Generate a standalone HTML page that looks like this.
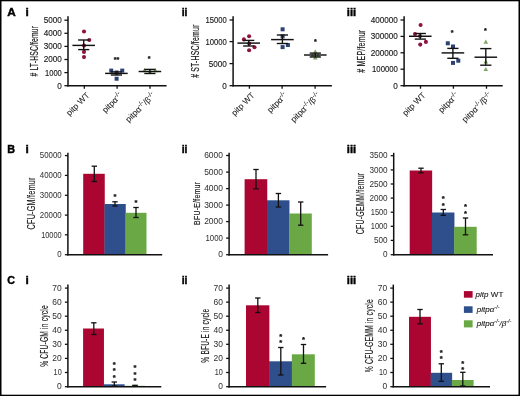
<!DOCTYPE html>
<html lang="en">
<head>
<meta charset="utf-8">
<title>Figure</title>
<style>
html,body{margin:0;padding:0;background:#fff;}
body{width:520px;height:396px;overflow:hidden;position:relative;}
svg{display:block;position:absolute;left:0;top:0;}
svg text{font-family:"Liberation Sans",sans-serif;}
</style>
</head>
<body>
<svg width="520" height="396" viewBox="0 0 520 396">
<rect x="0" y="0" width="520" height="396" fill="#fff"/>
<line x1="68.00" y1="16.20" x2="68.00" y2="86.45" stroke="#111" stroke-width="1.5" />
<line x1="64.40" y1="20.20" x2="68.00" y2="20.20" stroke="#111" stroke-width="1.275" />
<text transform="translate(61.80,23.11) scale(0.850,1)" font-size="9.6" text-anchor="end" fill="#1a1a1a" stroke="#1a1a1a" stroke-width="0.15">5000</text>
<line x1="64.40" y1="33.30" x2="68.00" y2="33.30" stroke="#111" stroke-width="1.275" />
<text transform="translate(61.80,36.21) scale(0.850,1)" font-size="9.6" text-anchor="end" fill="#1a1a1a" stroke="#1a1a1a" stroke-width="0.15">4000</text>
<line x1="64.40" y1="46.40" x2="68.00" y2="46.40" stroke="#111" stroke-width="1.275" />
<text transform="translate(61.80,49.31) scale(0.850,1)" font-size="9.6" text-anchor="end" fill="#1a1a1a" stroke="#1a1a1a" stroke-width="0.15">3000</text>
<line x1="64.40" y1="59.50" x2="68.00" y2="59.50" stroke="#111" stroke-width="1.275" />
<text transform="translate(61.80,62.41) scale(0.850,1)" font-size="9.6" text-anchor="end" fill="#1a1a1a" stroke="#1a1a1a" stroke-width="0.15">2000</text>
<line x1="64.40" y1="72.60" x2="68.00" y2="72.60" stroke="#111" stroke-width="1.275" />
<text transform="translate(61.80,75.51) scale(0.789,1)" font-size="9.6" text-anchor="end" fill="#1a1a1a" stroke="#1a1a1a" stroke-width="0.15">1000</text>
<line x1="64.40" y1="85.70" x2="68.00" y2="85.70" stroke="#111" stroke-width="1.275" />
<text transform="translate(61.80,88.61) scale(0.850,1)" font-size="9.6" text-anchor="end" fill="#1a1a1a" stroke="#1a1a1a" stroke-width="0.15">0</text>
<line x1="67.28" y1="85.70" x2="166.60" y2="85.70" stroke="#111" stroke-width="1.45" />
<line x1="84.30" y1="85.70" x2="84.30" y2="88.70" stroke="#111" stroke-width="1.305" />
<line x1="117.10" y1="85.70" x2="117.10" y2="88.70" stroke="#111" stroke-width="1.305" />
<line x1="150.00" y1="85.70" x2="150.00" y2="88.70" stroke="#111" stroke-width="1.305" />
<text transform="translate(37.60,51.20) rotate(-90) scale(0.672,1)" font-size="10.0" text-anchor="middle" letter-spacing="0.3" fill="#1a1a1a" stroke="#1a1a1a" stroke-width="0.18"># LT-HSC/femur</text>
<circle cx="84.00" cy="31.50" r="2.05" fill="#8f1340"/>
<circle cx="89.25" cy="40.00" r="2.05" fill="#8f1340"/>
<circle cx="84.00" cy="45.60" r="2.05" fill="#8f1340"/>
<circle cx="84.00" cy="51.90" r="2.05" fill="#8f1340"/>
<circle cx="84.00" cy="57.10" r="2.05" fill="#8f1340"/>
<rect x="109.25" y="68.60" width="4.0" height="4.0" fill="#2d4174"/>
<rect x="120.25" y="68.60" width="4.0" height="4.0" fill="#2d4174"/>
<rect x="114.60" y="70.50" width="4.0" height="4.0" fill="#2d4174"/>
<rect x="114.60" y="76.75" width="4.0" height="4.0" fill="#2d4174"/>
<polygon points="144.50,68.00 142.20,72.14 146.80,72.14" fill="#7fa667"/>
<polygon points="155.30,68.00 153.00,72.14 157.60,72.14" fill="#7fa667"/>
<polygon points="149.90,69.50 147.60,73.64 152.20,73.64" fill="#7fa667"/>
<line x1="72.40" y1="45.40" x2="95.00" y2="45.40" stroke="#111" stroke-width="1.4489999999999998" />
<line x1="83.70" y1="40.00" x2="83.70" y2="49.60" stroke="#111" stroke-width="1.38" />
<line x1="78.10" y1="40.00" x2="89.30" y2="40.00" stroke="#111" stroke-width="1.38" />
<line x1="78.10" y1="49.60" x2="89.30" y2="49.60" stroke="#111" stroke-width="1.38" />
<line x1="105.10" y1="73.40" x2="127.70" y2="73.40" stroke="#111" stroke-width="1.4489999999999998" />
<line x1="116.40" y1="71.90" x2="116.40" y2="75.00" stroke="#111" stroke-width="1.38" />
<line x1="110.80" y1="71.90" x2="122.00" y2="71.90" stroke="#111" stroke-width="1.38" />
<line x1="110.80" y1="75.00" x2="122.00" y2="75.00" stroke="#111" stroke-width="1.38" />
<line x1="138.60" y1="71.50" x2="161.20" y2="71.50" stroke="#111" stroke-width="1.4489999999999998" />
<line x1="149.90" y1="69.40" x2="149.90" y2="73.50" stroke="#111" stroke-width="1.38" />
<line x1="144.30" y1="69.40" x2="155.50" y2="69.40" stroke="#111" stroke-width="1.38" />
<line x1="144.30" y1="73.50" x2="155.50" y2="73.50" stroke="#111" stroke-width="1.38" />
<text x="116.60" y="62.01" font-size="7.2" text-anchor="middle" font-weight="bold" font-style="normal" fill="#111" stroke="#111" stroke-width="0.25">**</text>
<text x="149.20" y="61.31" font-size="7.2" text-anchor="middle" font-weight="bold" font-style="normal" fill="#111" stroke="#111" stroke-width="0.25">*</text>
<text transform="translate(90.00,95.90) rotate(-45)" font-size="8.4" text-anchor="end" fill="#1a1a1a" stroke="#1a1a1a" stroke-width="0.05">pitp WT</text>
<text transform="translate(122.80,95.90) rotate(-45)" font-size="8.4" text-anchor="end" fill="#1a1a1a" stroke="#1a1a1a" stroke-width="0.05">pitpα<tspan dy="-3" font-size="6.6">-/-</tspan></text>
<text transform="translate(155.70,95.90) rotate(-45)" font-size="8.4" text-anchor="end" fill="#1a1a1a" stroke="#1a1a1a" stroke-width="0.05">pitpα<tspan dy="-3" font-size="6.6">-/-</tspan><tspan dy="3">/β</tspan><tspan dy="-3" font-size="6.6">-/-</tspan></text>
<line x1="233.10" y1="16.20" x2="233.10" y2="86.45" stroke="#111" stroke-width="1.5" />
<line x1="229.50" y1="20.00" x2="233.10" y2="20.00" stroke="#111" stroke-width="1.275" />
<text transform="translate(226.90,22.91) scale(0.801,1)" font-size="9.6" text-anchor="end" fill="#1a1a1a" stroke="#1a1a1a" stroke-width="0.15">15000</text>
<line x1="229.50" y1="41.60" x2="233.10" y2="41.60" stroke="#111" stroke-width="1.275" />
<text transform="translate(226.90,44.51) scale(0.801,1)" font-size="9.6" text-anchor="end" fill="#1a1a1a" stroke="#1a1a1a" stroke-width="0.15">10000</text>
<line x1="229.50" y1="63.60" x2="233.10" y2="63.60" stroke="#111" stroke-width="1.275" />
<text transform="translate(226.90,66.51) scale(0.850,1)" font-size="9.6" text-anchor="end" fill="#1a1a1a" stroke="#1a1a1a" stroke-width="0.15">5000</text>
<line x1="229.50" y1="85.70" x2="233.10" y2="85.70" stroke="#111" stroke-width="1.275" />
<text transform="translate(226.90,88.61) scale(0.850,1)" font-size="9.6" text-anchor="end" fill="#1a1a1a" stroke="#1a1a1a" stroke-width="0.15">0</text>
<line x1="232.38" y1="85.70" x2="331.90" y2="85.70" stroke="#111" stroke-width="1.45" />
<line x1="249.40" y1="85.70" x2="249.40" y2="88.70" stroke="#111" stroke-width="1.305" />
<line x1="282.10" y1="85.70" x2="282.10" y2="88.70" stroke="#111" stroke-width="1.305" />
<line x1="315.10" y1="85.70" x2="315.10" y2="88.70" stroke="#111" stroke-width="1.305" />
<text transform="translate(198.70,51.20) rotate(-90) scale(0.688,1)" font-size="10.0" text-anchor="middle" letter-spacing="0.3" fill="#1a1a1a" stroke="#1a1a1a" stroke-width="0.18"># ST-HSC/femur</text>
<circle cx="243.90" cy="39.40" r="2.05" fill="#8f1340"/>
<circle cx="249.10" cy="36.30" r="2.05" fill="#8f1340"/>
<circle cx="249.20" cy="43.50" r="2.05" fill="#8f1340"/>
<circle cx="254.50" cy="47.20" r="2.05" fill="#8f1340"/>
<circle cx="249.10" cy="50.30" r="2.05" fill="#8f1340"/>
<rect x="280.60" y="27.30" width="4.0" height="4.0" fill="#2d4174"/>
<rect x="280.60" y="34.40" width="4.0" height="4.0" fill="#2d4174"/>
<rect x="285.90" y="43.00" width="4.0" height="4.0" fill="#2d4174"/>
<rect x="280.60" y="45.10" width="4.0" height="4.0" fill="#2d4174"/>
<polygon points="315.25,49.30 312.95,53.44 317.55,53.44" fill="#7fa667"/>
<polygon points="312.50,52.90 310.20,57.04 314.80,57.04" fill="#7fa667"/>
<polygon points="318.00,52.90 315.70,57.04 320.30,57.04" fill="#7fa667"/>
<polygon points="315.25,55.30 312.95,59.44 317.55,59.44" fill="#7fa667"/>
<line x1="237.40" y1="43.10" x2="260.00" y2="43.10" stroke="#111" stroke-width="1.4489999999999998" />
<line x1="248.70" y1="40.40" x2="248.70" y2="46.00" stroke="#111" stroke-width="1.38" />
<line x1="243.10" y1="40.40" x2="254.30" y2="40.40" stroke="#111" stroke-width="1.38" />
<line x1="243.10" y1="46.00" x2="254.30" y2="46.00" stroke="#111" stroke-width="1.38" />
<line x1="271.10" y1="39.60" x2="293.70" y2="39.60" stroke="#111" stroke-width="1.4489999999999998" />
<line x1="282.40" y1="35.00" x2="282.40" y2="43.50" stroke="#111" stroke-width="1.38" />
<line x1="276.80" y1="35.00" x2="288.00" y2="35.00" stroke="#111" stroke-width="1.38" />
<line x1="276.80" y1="43.50" x2="288.00" y2="43.50" stroke="#111" stroke-width="1.38" />
<line x1="304.00" y1="55.00" x2="326.60" y2="55.00" stroke="#111" stroke-width="1.4489999999999998" />
<line x1="315.30" y1="53.10" x2="315.30" y2="57.00" stroke="#111" stroke-width="1.38" />
<line x1="309.70" y1="53.10" x2="320.90" y2="53.10" stroke="#111" stroke-width="1.38" />
<line x1="309.70" y1="57.00" x2="320.90" y2="57.00" stroke="#111" stroke-width="1.38" />
<text x="315.30" y="44.01" font-size="7.2" text-anchor="middle" font-weight="bold" font-style="normal" fill="#111" stroke="#111" stroke-width="0.25">*</text>
<text transform="translate(255.10,95.90) rotate(-45)" font-size="8.4" text-anchor="end" fill="#1a1a1a" stroke="#1a1a1a" stroke-width="0.05">pitp WT</text>
<text transform="translate(287.80,95.90) rotate(-45)" font-size="8.4" text-anchor="end" fill="#1a1a1a" stroke="#1a1a1a" stroke-width="0.05">pitpα<tspan dy="-3" font-size="6.6">-/-</tspan></text>
<text transform="translate(320.80,95.90) rotate(-45)" font-size="8.4" text-anchor="end" fill="#1a1a1a" stroke="#1a1a1a" stroke-width="0.05">pitpα<tspan dy="-3" font-size="6.6">-/-</tspan><tspan dy="3">/β</tspan><tspan dy="-3" font-size="6.6">-/-</tspan></text>
<line x1="404.10" y1="16.20" x2="404.10" y2="86.45" stroke="#111" stroke-width="1.5" />
<line x1="400.50" y1="20.00" x2="404.10" y2="20.00" stroke="#111" stroke-width="1.275" />
<text transform="translate(397.90,22.91) scale(0.850,1)" font-size="9.6" text-anchor="end" fill="#1a1a1a" stroke="#1a1a1a" stroke-width="0.15">400000</text>
<line x1="400.50" y1="36.40" x2="404.10" y2="36.40" stroke="#111" stroke-width="1.275" />
<text transform="translate(397.90,39.31) scale(0.850,1)" font-size="9.6" text-anchor="end" fill="#1a1a1a" stroke="#1a1a1a" stroke-width="0.15">300000</text>
<line x1="400.50" y1="52.80" x2="404.10" y2="52.80" stroke="#111" stroke-width="1.275" />
<text transform="translate(397.90,55.71) scale(0.850,1)" font-size="9.6" text-anchor="end" fill="#1a1a1a" stroke="#1a1a1a" stroke-width="0.15">200000</text>
<line x1="400.50" y1="69.20" x2="404.10" y2="69.20" stroke="#111" stroke-width="1.275" />
<text transform="translate(397.90,72.11) scale(0.809,1)" font-size="9.6" text-anchor="end" fill="#1a1a1a" stroke="#1a1a1a" stroke-width="0.15">100000</text>
<line x1="400.50" y1="85.70" x2="404.10" y2="85.70" stroke="#111" stroke-width="1.275" />
<text transform="translate(397.90,88.61) scale(0.850,1)" font-size="9.6" text-anchor="end" fill="#1a1a1a" stroke="#1a1a1a" stroke-width="0.15">0</text>
<line x1="403.38" y1="85.70" x2="502.70" y2="85.70" stroke="#111" stroke-width="1.45" />
<line x1="420.50" y1="85.70" x2="420.50" y2="88.70" stroke="#111" stroke-width="1.305" />
<line x1="453.40" y1="85.70" x2="453.40" y2="88.70" stroke="#111" stroke-width="1.305" />
<line x1="486.50" y1="85.70" x2="486.50" y2="88.70" stroke="#111" stroke-width="1.305" />
<text transform="translate(365.40,51.20) rotate(-90) scale(0.701,1)" font-size="10.0" text-anchor="middle" letter-spacing="0.3" fill="#1a1a1a" stroke="#1a1a1a" stroke-width="0.18"># MEP/femur</text>
<circle cx="420.60" cy="25.00" r="2.05" fill="#8f1340"/>
<circle cx="415.00" cy="34.00" r="2.05" fill="#8f1340"/>
<circle cx="420.00" cy="36.00" r="2.05" fill="#8f1340"/>
<circle cx="425.90" cy="41.90" r="2.05" fill="#8f1340"/>
<circle cx="420.25" cy="44.60" r="2.05" fill="#8f1340"/>
<rect x="445.80" y="41.30" width="4.0" height="4.0" fill="#2d4174"/>
<rect x="451.00" y="44.50" width="4.0" height="4.0" fill="#2d4174"/>
<rect x="456.30" y="58.70" width="4.0" height="4.0" fill="#2d4174"/>
<rect x="451.00" y="60.90" width="4.0" height="4.0" fill="#2d4174"/>
<polygon points="485.80,39.50 483.50,43.64 488.10,43.64" fill="#7fa667"/>
<polygon points="485.80,59.30 483.50,63.44 488.10,63.44" fill="#7fa667"/>
<polygon points="485.80,66.90 483.50,71.04 488.10,71.04" fill="#7fa667"/>
<line x1="409.00" y1="36.25" x2="431.60" y2="36.25" stroke="#111" stroke-width="1.4489999999999998" />
<line x1="420.30" y1="33.50" x2="420.30" y2="39.10" stroke="#111" stroke-width="1.38" />
<line x1="414.70" y1="33.50" x2="425.90" y2="33.50" stroke="#111" stroke-width="1.38" />
<line x1="414.70" y1="39.10" x2="425.90" y2="39.10" stroke="#111" stroke-width="1.38" />
<line x1="441.60" y1="52.90" x2="464.20" y2="52.90" stroke="#111" stroke-width="1.4489999999999998" />
<line x1="452.90" y1="48.40" x2="452.90" y2="58.30" stroke="#111" stroke-width="1.38" />
<line x1="447.30" y1="48.40" x2="458.50" y2="48.40" stroke="#111" stroke-width="1.38" />
<line x1="447.30" y1="58.30" x2="458.50" y2="58.30" stroke="#111" stroke-width="1.38" />
<line x1="474.50" y1="57.20" x2="497.10" y2="57.20" stroke="#111" stroke-width="1.4489999999999998" />
<line x1="485.80" y1="48.60" x2="485.80" y2="65.20" stroke="#111" stroke-width="1.38" />
<line x1="480.20" y1="48.60" x2="491.40" y2="48.60" stroke="#111" stroke-width="1.38" />
<line x1="480.20" y1="65.20" x2="491.40" y2="65.20" stroke="#111" stroke-width="1.38" />
<text x="452.10" y="34.51" font-size="7.2" text-anchor="middle" font-weight="bold" font-style="normal" fill="#111" stroke="#111" stroke-width="0.25">*</text>
<text x="485.50" y="32.61" font-size="7.2" text-anchor="middle" font-weight="bold" font-style="normal" fill="#111" stroke="#111" stroke-width="0.25">*</text>
<text transform="translate(426.20,95.90) rotate(-45)" font-size="8.4" text-anchor="end" fill="#1a1a1a" stroke="#1a1a1a" stroke-width="0.05">pitp WT</text>
<text transform="translate(459.10,95.90) rotate(-45)" font-size="8.4" text-anchor="end" fill="#1a1a1a" stroke="#1a1a1a" stroke-width="0.05">pitpα<tspan dy="-3" font-size="6.6">-/-</tspan></text>
<text transform="translate(492.20,95.90) rotate(-45)" font-size="8.4" text-anchor="end" fill="#1a1a1a" stroke="#1a1a1a" stroke-width="0.05">pitpα<tspan dy="-3" font-size="6.6">-/-</tspan><tspan dy="3">/β</tspan><tspan dy="-3" font-size="6.6">-/-</tspan></text>
<rect x="83.20" y="173.80" width="21.55" height="80.90" fill="#ab0531"/>
<rect x="104.45" y="204.00" width="21.30" height="50.70" fill="#2e4f8c"/>
<rect x="125.45" y="212.80" width="21.05" height="41.90" fill="#69a844"/>
<line x1="94.30" y1="166.20" x2="94.30" y2="181.50" stroke="#111" stroke-width="1.3" />
<line x1="91.60" y1="166.20" x2="97.00" y2="166.20" stroke="#111" stroke-width="1.3" />
<line x1="91.60" y1="181.50" x2="97.00" y2="181.50" stroke="#111" stroke-width="1.3" />
<line x1="115.00" y1="201.80" x2="115.00" y2="206.00" stroke="#111" stroke-width="1.3" />
<line x1="112.30" y1="201.80" x2="117.70" y2="201.80" stroke="#111" stroke-width="1.3" />
<line x1="112.30" y1="206.00" x2="117.70" y2="206.00" stroke="#111" stroke-width="1.3" />
<line x1="136.00" y1="207.50" x2="136.00" y2="217.50" stroke="#111" stroke-width="1.3" />
<line x1="133.30" y1="207.50" x2="138.70" y2="207.50" stroke="#111" stroke-width="1.3" />
<line x1="133.30" y1="217.50" x2="138.70" y2="217.50" stroke="#111" stroke-width="1.3" />
<line x1="67.90" y1="152.80" x2="67.90" y2="255.45" stroke="#111" stroke-width="1.5" />
<line x1="64.90" y1="155.60" x2="67.90" y2="155.60" stroke="#111" stroke-width="1.275" />
<text transform="translate(61.70,158.36) scale(0.820,1)" font-size="9.6" text-anchor="end" fill="#333" stroke="#333" stroke-width="0.03">50000</text>
<line x1="64.90" y1="175.40" x2="67.90" y2="175.40" stroke="#111" stroke-width="1.275" />
<text transform="translate(61.70,178.16) scale(0.820,1)" font-size="9.6" text-anchor="end" fill="#333" stroke="#333" stroke-width="0.03">40000</text>
<line x1="64.90" y1="195.30" x2="67.90" y2="195.30" stroke="#111" stroke-width="1.275" />
<text transform="translate(61.70,198.06) scale(0.820,1)" font-size="9.6" text-anchor="end" fill="#333" stroke="#333" stroke-width="0.03">30000</text>
<line x1="64.90" y1="215.10" x2="67.90" y2="215.10" stroke="#111" stroke-width="1.275" />
<text transform="translate(61.70,217.86) scale(0.820,1)" font-size="9.6" text-anchor="end" fill="#333" stroke="#333" stroke-width="0.03">20000</text>
<line x1="64.90" y1="234.80" x2="67.90" y2="234.80" stroke="#111" stroke-width="1.275" />
<text transform="translate(61.70,237.56) scale(0.771,1)" font-size="9.6" text-anchor="end" fill="#333" stroke="#333" stroke-width="0.03">10000</text>
<line x1="64.90" y1="254.70" x2="67.90" y2="254.70" stroke="#111" stroke-width="1.275" />
<text transform="translate(61.70,257.46) scale(0.820,1)" font-size="9.6" text-anchor="end" fill="#333" stroke="#333" stroke-width="0.03">0</text>
<line x1="67.20" y1="254.70" x2="162.20" y2="254.70" stroke="#111" stroke-width="1.4" />
<text transform="translate(34.60,203.40) rotate(-90) scale(0.687,1)" font-size="10.6" text-anchor="middle" letter-spacing="0.3" fill="#1a1a1a" stroke="#1a1a1a" stroke-width="0.16">CFU-GM/femur</text>
<text x="114.90" y="198.95" font-size="7.6" text-anchor="middle" font-weight="bold" font-style="normal" fill="#111" stroke="#111" stroke-width="0.25">*</text>
<text x="136.10" y="205.05" font-size="7.6" text-anchor="middle" font-weight="bold" font-style="normal" fill="#111" stroke="#111" stroke-width="0.25">*</text>
<rect x="244.60" y="179.20" width="22.65" height="75.50" fill="#ab0531"/>
<rect x="266.95" y="200.30" width="22.50" height="54.40" fill="#2e4f8c"/>
<rect x="289.15" y="213.50" width="22.65" height="41.20" fill="#69a844"/>
<line x1="256.00" y1="169.50" x2="256.00" y2="188.70" stroke="#111" stroke-width="1.3" />
<line x1="253.30" y1="169.50" x2="258.70" y2="169.50" stroke="#111" stroke-width="1.3" />
<line x1="253.30" y1="188.70" x2="258.70" y2="188.70" stroke="#111" stroke-width="1.3" />
<line x1="278.40" y1="193.50" x2="278.40" y2="207.00" stroke="#111" stroke-width="1.3" />
<line x1="275.70" y1="193.50" x2="281.10" y2="193.50" stroke="#111" stroke-width="1.3" />
<line x1="275.70" y1="207.00" x2="281.10" y2="207.00" stroke="#111" stroke-width="1.3" />
<line x1="300.70" y1="202.00" x2="300.70" y2="225.20" stroke="#111" stroke-width="1.3" />
<line x1="298.00" y1="202.00" x2="303.40" y2="202.00" stroke="#111" stroke-width="1.3" />
<line x1="298.00" y1="225.20" x2="303.40" y2="225.20" stroke="#111" stroke-width="1.3" />
<line x1="229.10" y1="152.80" x2="229.10" y2="255.45" stroke="#111" stroke-width="1.5" />
<line x1="226.10" y1="155.50" x2="229.10" y2="155.50" stroke="#111" stroke-width="1.275" />
<text transform="translate(222.90,158.26) scale(0.880,1)" font-size="9.6" text-anchor="end" fill="#333" stroke="#333" stroke-width="0.03">6000</text>
<line x1="226.10" y1="172.10" x2="229.10" y2="172.10" stroke="#111" stroke-width="1.275" />
<text transform="translate(222.90,174.86) scale(0.880,1)" font-size="9.6" text-anchor="end" fill="#333" stroke="#333" stroke-width="0.03">5000</text>
<line x1="226.10" y1="188.60" x2="229.10" y2="188.60" stroke="#111" stroke-width="1.275" />
<text transform="translate(222.90,191.36) scale(0.880,1)" font-size="9.6" text-anchor="end" fill="#333" stroke="#333" stroke-width="0.03">4000</text>
<line x1="226.10" y1="205.10" x2="229.10" y2="205.10" stroke="#111" stroke-width="1.275" />
<text transform="translate(222.90,207.86) scale(0.880,1)" font-size="9.6" text-anchor="end" fill="#333" stroke="#333" stroke-width="0.03">3000</text>
<line x1="226.10" y1="221.60" x2="229.10" y2="221.60" stroke="#111" stroke-width="1.275" />
<text transform="translate(222.90,224.36) scale(0.880,1)" font-size="9.6" text-anchor="end" fill="#333" stroke="#333" stroke-width="0.03">2000</text>
<line x1="226.10" y1="238.10" x2="229.10" y2="238.10" stroke="#111" stroke-width="1.275" />
<text transform="translate(222.90,240.86) scale(0.819,1)" font-size="9.6" text-anchor="end" fill="#333" stroke="#333" stroke-width="0.03">1000</text>
<line x1="226.10" y1="254.70" x2="229.10" y2="254.70" stroke="#111" stroke-width="1.275" />
<text transform="translate(222.90,257.46) scale(0.880,1)" font-size="9.6" text-anchor="end" fill="#333" stroke="#333" stroke-width="0.03">0</text>
<line x1="228.40" y1="254.70" x2="328.10" y2="254.70" stroke="#111" stroke-width="1.4" />
<text transform="translate(199.60,203.40) rotate(-90) scale(0.743,1)" font-size="9.4" text-anchor="middle" letter-spacing="0.3" fill="#1a1a1a" stroke="#1a1a1a" stroke-width="0.16">BFU-E/femur</text>
<rect x="409.70" y="170.50" width="22.45" height="84.20" fill="#ab0531"/>
<rect x="431.85" y="212.50" width="22.60" height="42.20" fill="#2e4f8c"/>
<rect x="454.15" y="226.80" width="22.55" height="27.90" fill="#69a844"/>
<line x1="421.00" y1="168.20" x2="421.00" y2="172.80" stroke="#111" stroke-width="1.3" />
<line x1="418.30" y1="168.20" x2="423.70" y2="168.20" stroke="#111" stroke-width="1.3" />
<line x1="418.30" y1="172.80" x2="423.70" y2="172.80" stroke="#111" stroke-width="1.3" />
<line x1="443.30" y1="209.50" x2="443.30" y2="215.30" stroke="#111" stroke-width="1.3" />
<line x1="440.60" y1="209.50" x2="446.00" y2="209.50" stroke="#111" stroke-width="1.3" />
<line x1="440.60" y1="215.30" x2="446.00" y2="215.30" stroke="#111" stroke-width="1.3" />
<line x1="465.50" y1="218.00" x2="465.50" y2="234.80" stroke="#111" stroke-width="1.3" />
<line x1="462.80" y1="218.00" x2="468.20" y2="218.00" stroke="#111" stroke-width="1.3" />
<line x1="462.80" y1="234.80" x2="468.20" y2="234.80" stroke="#111" stroke-width="1.3" />
<line x1="393.70" y1="152.80" x2="393.70" y2="255.45" stroke="#111" stroke-width="1.5" />
<line x1="390.70" y1="155.70" x2="393.70" y2="155.70" stroke="#111" stroke-width="1.275" />
<text transform="translate(387.50,158.46) scale(0.850,1)" font-size="9.6" text-anchor="end" fill="#333" stroke="#333" stroke-width="0.03">3500</text>
<line x1="390.70" y1="169.90" x2="393.70" y2="169.90" stroke="#111" stroke-width="1.275" />
<text transform="translate(387.50,172.66) scale(0.850,1)" font-size="9.6" text-anchor="end" fill="#333" stroke="#333" stroke-width="0.03">3000</text>
<line x1="390.70" y1="184.00" x2="393.70" y2="184.00" stroke="#111" stroke-width="1.275" />
<text transform="translate(387.50,186.76) scale(0.850,1)" font-size="9.6" text-anchor="end" fill="#333" stroke="#333" stroke-width="0.03">2500</text>
<line x1="390.70" y1="198.10" x2="393.70" y2="198.10" stroke="#111" stroke-width="1.275" />
<text transform="translate(387.50,200.86) scale(0.850,1)" font-size="9.6" text-anchor="end" fill="#333" stroke="#333" stroke-width="0.03">2000</text>
<line x1="390.70" y1="212.20" x2="393.70" y2="212.20" stroke="#111" stroke-width="1.275" />
<text transform="translate(387.50,214.96) scale(0.789,1)" font-size="9.6" text-anchor="end" fill="#333" stroke="#333" stroke-width="0.03">1500</text>
<line x1="390.70" y1="226.30" x2="393.70" y2="226.30" stroke="#111" stroke-width="1.275" />
<text transform="translate(387.50,229.06) scale(0.789,1)" font-size="9.6" text-anchor="end" fill="#333" stroke="#333" stroke-width="0.03">1000</text>
<line x1="390.70" y1="240.40" x2="393.70" y2="240.40" stroke="#111" stroke-width="1.275" />
<text transform="translate(387.50,243.16) scale(0.850,1)" font-size="9.6" text-anchor="end" fill="#333" stroke="#333" stroke-width="0.03">500</text>
<line x1="390.70" y1="254.70" x2="393.70" y2="254.70" stroke="#111" stroke-width="1.275" />
<text transform="translate(387.50,257.46) scale(0.850,1)" font-size="9.6" text-anchor="end" fill="#333" stroke="#333" stroke-width="0.03">0</text>
<line x1="393.00" y1="254.70" x2="493.00" y2="254.70" stroke="#111" stroke-width="1.4" />
<text transform="translate(364.40,203.50) rotate(-90) scale(0.667,1)" font-size="10.6" text-anchor="middle" letter-spacing="0.3" fill="#1a1a1a" stroke="#1a1a1a" stroke-width="0.16">CFU-GEMM/femur</text>
<text x="443.30" y="201.15" font-size="7.6" text-anchor="middle" font-weight="bold" font-style="normal" fill="#111" stroke="#111" stroke-width="0.25">*</text>
<text x="443.30" y="207.65" font-size="7.6" text-anchor="middle" font-weight="bold" font-style="normal" fill="#111" stroke="#111" stroke-width="0.25">*</text>
<text x="465.50" y="209.35" font-size="7.6" text-anchor="middle" font-weight="bold" font-style="normal" fill="#111" stroke="#111" stroke-width="0.25">*</text>
<text x="465.50" y="215.85" font-size="7.6" text-anchor="middle" font-weight="bold" font-style="normal" fill="#111" stroke="#111" stroke-width="0.25">*</text>
<rect x="83.10" y="328.50" width="20.85" height="58.20" fill="#ab0531"/>
<rect x="103.65" y="384.30" width="21.00" height="2.40" fill="#2e4f8c"/>
<rect x="124.35" y="385.80" width="20.65" height="0.90" fill="#69a844"/>
<line x1="93.80" y1="322.80" x2="93.80" y2="334.50" stroke="#111" stroke-width="1.3" />
<line x1="91.10" y1="322.80" x2="96.50" y2="322.80" stroke="#111" stroke-width="1.3" />
<line x1="91.10" y1="334.50" x2="96.50" y2="334.50" stroke="#111" stroke-width="1.3" />
<line x1="114.30" y1="382.00" x2="114.30" y2="386.00" stroke="#111" stroke-width="1.3" />
<line x1="111.60" y1="382.00" x2="117.00" y2="382.00" stroke="#111" stroke-width="1.3" />
<line x1="111.60" y1="386.00" x2="117.00" y2="386.00" stroke="#111" stroke-width="1.3" />
<line x1="135.00" y1="385.30" x2="135.00" y2="386.00" stroke="#111" stroke-width="1.3" />
<line x1="132.30" y1="385.30" x2="137.70" y2="385.30" stroke="#111" stroke-width="1.3" />
<line x1="132.30" y1="386.00" x2="137.70" y2="386.00" stroke="#111" stroke-width="1.3" />
<line x1="67.90" y1="284.60" x2="67.90" y2="387.45" stroke="#111" stroke-width="1.5" />
<line x1="64.90" y1="288.10" x2="67.90" y2="288.10" stroke="#111" stroke-width="1.275" />
<text transform="translate(61.70,290.86) scale(0.880,1)" font-size="9.6" text-anchor="end" fill="#333" stroke="#333" stroke-width="0.03">70</text>
<line x1="64.90" y1="302.15" x2="67.90" y2="302.15" stroke="#111" stroke-width="1.275" />
<text transform="translate(61.70,304.91) scale(0.880,1)" font-size="9.6" text-anchor="end" fill="#333" stroke="#333" stroke-width="0.03">60</text>
<line x1="64.90" y1="316.20" x2="67.90" y2="316.20" stroke="#111" stroke-width="1.275" />
<text transform="translate(61.70,318.96) scale(0.880,1)" font-size="9.6" text-anchor="end" fill="#333" stroke="#333" stroke-width="0.03">50</text>
<line x1="64.90" y1="330.25" x2="67.90" y2="330.25" stroke="#111" stroke-width="1.275" />
<text transform="translate(61.70,333.01) scale(0.880,1)" font-size="9.6" text-anchor="end" fill="#333" stroke="#333" stroke-width="0.03">40</text>
<line x1="64.90" y1="344.30" x2="67.90" y2="344.30" stroke="#111" stroke-width="1.275" />
<text transform="translate(61.70,347.06) scale(0.880,1)" font-size="9.6" text-anchor="end" fill="#333" stroke="#333" stroke-width="0.03">30</text>
<line x1="64.90" y1="358.40" x2="67.90" y2="358.40" stroke="#111" stroke-width="1.275" />
<text transform="translate(61.70,361.16) scale(0.880,1)" font-size="9.6" text-anchor="end" fill="#333" stroke="#333" stroke-width="0.03">20</text>
<line x1="64.90" y1="372.50" x2="67.90" y2="372.50" stroke="#111" stroke-width="1.275" />
<text transform="translate(61.70,375.26) scale(0.758,1)" font-size="9.6" text-anchor="end" fill="#333" stroke="#333" stroke-width="0.03">10</text>
<line x1="64.90" y1="386.70" x2="67.90" y2="386.70" stroke="#111" stroke-width="1.275" />
<text transform="translate(61.70,389.46) scale(0.880,1)" font-size="9.6" text-anchor="end" fill="#333" stroke="#333" stroke-width="0.03">0</text>
<line x1="67.20" y1="386.70" x2="161.30" y2="386.70" stroke="#111" stroke-width="1.4" />
<text transform="translate(47.60,336.00) rotate(-90) scale(0.629,1)" font-size="10.6" text-anchor="middle" letter-spacing="0.3" fill="#1a1a1a" stroke="#1a1a1a" stroke-width="0.16">% CFU-GM in cycle</text>
<text x="114.30" y="366.65" font-size="7.6" text-anchor="middle" font-weight="bold" font-style="normal" fill="#111" stroke="#111" stroke-width="0.25">*</text>
<text x="114.30" y="373.15" font-size="7.6" text-anchor="middle" font-weight="bold" font-style="normal" fill="#111" stroke="#111" stroke-width="0.25">*</text>
<text x="114.30" y="379.65" font-size="7.6" text-anchor="middle" font-weight="bold" font-style="normal" fill="#111" stroke="#111" stroke-width="0.25">*</text>
<text x="135.00" y="370.35" font-size="7.6" text-anchor="middle" font-weight="bold" font-style="normal" fill="#111" stroke="#111" stroke-width="0.25">*</text>
<text x="135.00" y="376.85" font-size="7.6" text-anchor="middle" font-weight="bold" font-style="normal" fill="#111" stroke="#111" stroke-width="0.25">*</text>
<text x="135.00" y="383.35" font-size="7.6" text-anchor="middle" font-weight="bold" font-style="normal" fill="#111" stroke="#111" stroke-width="0.25">*</text>
<rect x="246.00" y="305.30" width="23.35" height="81.40" fill="#ab0531"/>
<rect x="269.05" y="361.30" width="23.10" height="25.40" fill="#2e4f8c"/>
<rect x="291.85" y="354.30" width="22.95" height="32.40" fill="#69a844"/>
<line x1="257.80" y1="298.00" x2="257.80" y2="312.50" stroke="#111" stroke-width="1.3" />
<line x1="255.10" y1="298.00" x2="260.50" y2="298.00" stroke="#111" stroke-width="1.3" />
<line x1="255.10" y1="312.50" x2="260.50" y2="312.50" stroke="#111" stroke-width="1.3" />
<line x1="280.80" y1="347.50" x2="280.80" y2="375.00" stroke="#111" stroke-width="1.3" />
<line x1="278.10" y1="347.50" x2="283.50" y2="347.50" stroke="#111" stroke-width="1.3" />
<line x1="278.10" y1="375.00" x2="283.50" y2="375.00" stroke="#111" stroke-width="1.3" />
<line x1="303.50" y1="344.50" x2="303.50" y2="363.30" stroke="#111" stroke-width="1.3" />
<line x1="300.80" y1="344.50" x2="306.20" y2="344.50" stroke="#111" stroke-width="1.3" />
<line x1="300.80" y1="363.30" x2="306.20" y2="363.30" stroke="#111" stroke-width="1.3" />
<line x1="229.10" y1="284.60" x2="229.10" y2="387.45" stroke="#111" stroke-width="1.5" />
<line x1="226.10" y1="288.10" x2="229.10" y2="288.10" stroke="#111" stroke-width="1.275" />
<text transform="translate(222.90,290.86) scale(0.880,1)" font-size="9.6" text-anchor="end" fill="#333" stroke="#333" stroke-width="0.03">70</text>
<line x1="226.10" y1="302.15" x2="229.10" y2="302.15" stroke="#111" stroke-width="1.275" />
<text transform="translate(222.90,304.91) scale(0.880,1)" font-size="9.6" text-anchor="end" fill="#333" stroke="#333" stroke-width="0.03">60</text>
<line x1="226.10" y1="316.20" x2="229.10" y2="316.20" stroke="#111" stroke-width="1.275" />
<text transform="translate(222.90,318.96) scale(0.880,1)" font-size="9.6" text-anchor="end" fill="#333" stroke="#333" stroke-width="0.03">50</text>
<line x1="226.10" y1="330.25" x2="229.10" y2="330.25" stroke="#111" stroke-width="1.275" />
<text transform="translate(222.90,333.01) scale(0.880,1)" font-size="9.6" text-anchor="end" fill="#333" stroke="#333" stroke-width="0.03">40</text>
<line x1="226.10" y1="344.30" x2="229.10" y2="344.30" stroke="#111" stroke-width="1.275" />
<text transform="translate(222.90,347.06) scale(0.880,1)" font-size="9.6" text-anchor="end" fill="#333" stroke="#333" stroke-width="0.03">30</text>
<line x1="226.10" y1="358.40" x2="229.10" y2="358.40" stroke="#111" stroke-width="1.275" />
<text transform="translate(222.90,361.16) scale(0.880,1)" font-size="9.6" text-anchor="end" fill="#333" stroke="#333" stroke-width="0.03">20</text>
<line x1="226.10" y1="372.50" x2="229.10" y2="372.50" stroke="#111" stroke-width="1.275" />
<text transform="translate(222.90,375.26) scale(0.758,1)" font-size="9.6" text-anchor="end" fill="#333" stroke="#333" stroke-width="0.03">10</text>
<line x1="226.10" y1="386.70" x2="229.10" y2="386.70" stroke="#111" stroke-width="1.275" />
<text transform="translate(222.90,389.46) scale(0.880,1)" font-size="9.6" text-anchor="end" fill="#333" stroke="#333" stroke-width="0.03">0</text>
<line x1="228.40" y1="386.70" x2="326.10" y2="386.70" stroke="#111" stroke-width="1.4" />
<text transform="translate(208.60,335.60) rotate(-90) scale(0.621,1)" font-size="10.6" text-anchor="middle" letter-spacing="0.3" fill="#1a1a1a" stroke="#1a1a1a" stroke-width="0.16">% BFU-E in cycle</text>
<text x="280.80" y="338.85" font-size="7.6" text-anchor="middle" font-weight="bold" font-style="normal" fill="#111" stroke="#111" stroke-width="0.25">*</text>
<text x="280.80" y="345.35" font-size="7.6" text-anchor="middle" font-weight="bold" font-style="normal" fill="#111" stroke="#111" stroke-width="0.25">*</text>
<text x="303.50" y="342.15" font-size="7.6" text-anchor="middle" font-weight="bold" font-style="normal" fill="#111" stroke="#111" stroke-width="0.25">*</text>
<rect x="409.00" y="316.80" width="21.95" height="69.90" fill="#ab0531"/>
<rect x="430.65" y="372.80" width="21.50" height="13.90" fill="#2e4f8c"/>
<rect x="451.85" y="380.00" width="21.75" height="6.70" fill="#69a844"/>
<line x1="420.00" y1="309.50" x2="420.00" y2="323.80" stroke="#111" stroke-width="1.3" />
<line x1="417.30" y1="309.50" x2="422.70" y2="309.50" stroke="#111" stroke-width="1.3" />
<line x1="417.30" y1="323.80" x2="422.70" y2="323.80" stroke="#111" stroke-width="1.3" />
<line x1="441.30" y1="363.80" x2="441.30" y2="381.30" stroke="#111" stroke-width="1.3" />
<line x1="438.60" y1="363.80" x2="444.00" y2="363.80" stroke="#111" stroke-width="1.3" />
<line x1="438.60" y1="381.30" x2="444.00" y2="381.30" stroke="#111" stroke-width="1.3" />
<line x1="462.80" y1="372.30" x2="462.80" y2="386.00" stroke="#111" stroke-width="1.3" />
<line x1="460.10" y1="372.30" x2="465.50" y2="372.30" stroke="#111" stroke-width="1.3" />
<line x1="460.10" y1="386.00" x2="465.50" y2="386.00" stroke="#111" stroke-width="1.3" />
<line x1="393.30" y1="284.60" x2="393.30" y2="387.45" stroke="#111" stroke-width="1.5" />
<line x1="390.30" y1="288.10" x2="393.30" y2="288.10" stroke="#111" stroke-width="1.275" />
<text transform="translate(387.10,290.86) scale(0.880,1)" font-size="9.6" text-anchor="end" fill="#333" stroke="#333" stroke-width="0.03">70</text>
<line x1="390.30" y1="302.15" x2="393.30" y2="302.15" stroke="#111" stroke-width="1.275" />
<text transform="translate(387.10,304.91) scale(0.880,1)" font-size="9.6" text-anchor="end" fill="#333" stroke="#333" stroke-width="0.03">60</text>
<line x1="390.30" y1="316.20" x2="393.30" y2="316.20" stroke="#111" stroke-width="1.275" />
<text transform="translate(387.10,318.96) scale(0.880,1)" font-size="9.6" text-anchor="end" fill="#333" stroke="#333" stroke-width="0.03">50</text>
<line x1="390.30" y1="330.25" x2="393.30" y2="330.25" stroke="#111" stroke-width="1.275" />
<text transform="translate(387.10,333.01) scale(0.880,1)" font-size="9.6" text-anchor="end" fill="#333" stroke="#333" stroke-width="0.03">40</text>
<line x1="390.30" y1="344.30" x2="393.30" y2="344.30" stroke="#111" stroke-width="1.275" />
<text transform="translate(387.10,347.06) scale(0.880,1)" font-size="9.6" text-anchor="end" fill="#333" stroke="#333" stroke-width="0.03">30</text>
<line x1="390.30" y1="358.40" x2="393.30" y2="358.40" stroke="#111" stroke-width="1.275" />
<text transform="translate(387.10,361.16) scale(0.880,1)" font-size="9.6" text-anchor="end" fill="#333" stroke="#333" stroke-width="0.03">20</text>
<line x1="390.30" y1="372.50" x2="393.30" y2="372.50" stroke="#111" stroke-width="1.275" />
<text transform="translate(387.10,375.26) scale(0.758,1)" font-size="9.6" text-anchor="end" fill="#333" stroke="#333" stroke-width="0.03">10</text>
<line x1="390.30" y1="386.70" x2="393.30" y2="386.70" stroke="#111" stroke-width="1.275" />
<text transform="translate(387.10,389.46) scale(0.880,1)" font-size="9.6" text-anchor="end" fill="#333" stroke="#333" stroke-width="0.03">0</text>
<line x1="392.60" y1="386.70" x2="490.00" y2="386.70" stroke="#111" stroke-width="1.4" />
<text transform="translate(373.00,335.60) rotate(-90) scale(0.638,1)" font-size="10.6" text-anchor="middle" letter-spacing="0.3" fill="#1a1a1a" stroke="#1a1a1a" stroke-width="0.16">% CFU-GEMM in cycle</text>
<text x="441.30" y="354.65" font-size="7.6" text-anchor="middle" font-weight="bold" font-style="normal" fill="#111" stroke="#111" stroke-width="0.25">*</text>
<text x="441.30" y="361.15" font-size="7.6" text-anchor="middle" font-weight="bold" font-style="normal" fill="#111" stroke="#111" stroke-width="0.25">*</text>
<text x="462.80" y="365.85" font-size="7.6" text-anchor="middle" font-weight="bold" font-style="normal" fill="#111" stroke="#111" stroke-width="0.25">*</text>
<text x="462.80" y="372.35" font-size="7.6" text-anchor="middle" font-weight="bold" font-style="normal" fill="#111" stroke="#111" stroke-width="0.25">*</text>
<rect x="463.90" y="291.10" width="8.70" height="6.60" fill="#ab0531"/>
<rect x="463.90" y="306.30" width="8.70" height="6.60" fill="#2e4f8c"/>
<rect x="463.90" y="320.30" width="8.70" height="7.10" fill="#69a844"/>
<text x="475.60" y="296.70" font-size="8.0" text-anchor="start" font-weight="normal" font-style="normal" fill="#1a1a1a" stroke="#1a1a1a" stroke-width="0.12" letter-spacing="0.02"><tspan font-style="italic">pitp</tspan> WT</text>
<text x="476.80" y="311.60" font-size="8.0" text-anchor="start" font-weight="normal" font-style="normal" fill="#1a1a1a" stroke="#1a1a1a" stroke-width="0.12" letter-spacing="0.02"><tspan font-style="italic">pitpα</tspan><tspan dy="-2.8" font-size="5.3" font-style="italic">-/-</tspan></text>
<text x="476.80" y="325.90" font-size="8.0" text-anchor="start" font-weight="normal" font-style="normal" fill="#1a1a1a" stroke="#1a1a1a" stroke-width="0.12" letter-spacing="0.02"><tspan font-style="italic">pitpα</tspan><tspan dy="-2.8" font-size="5.3" font-style="italic">-/-</tspan><tspan dy="2.8" font-style="italic">/β</tspan><tspan dy="-2.8" font-size="5.3" font-style="italic">-/-</tspan></text>
<text transform="translate(7.20,15.80) scale(1.13,1)" font-size="10.4" stroke="#000" stroke-width="0.4" font-weight="bold" fill="#000">A</text>
<text transform="translate(25.60,15.80) scale(1.13,1)" font-size="10.4" stroke="#000" stroke-width="0.4" font-weight="bold" fill="#000">i</text>
<text transform="translate(181.70,15.80) scale(1.0,1)" font-size="10.4" stroke="#000" stroke-width="0.4" font-weight="bold" fill="#000">ii</text>
<text transform="translate(346.80,15.80) scale(1.08,1)" font-size="10.4" stroke="#000" stroke-width="0.4" font-weight="bold" fill="#000">iii</text>
<text transform="translate(7.20,152.50) scale(1.04,1)" font-size="10.4" stroke="#000" stroke-width="0.4" font-weight="bold" fill="#000">B</text>
<text transform="translate(25.60,152.50) scale(1.13,1)" font-size="10.4" stroke="#000" stroke-width="0.4" font-weight="bold" fill="#000">i</text>
<text transform="translate(181.70,152.50) scale(1.0,1)" font-size="10.4" stroke="#000" stroke-width="0.4" font-weight="bold" fill="#000">ii</text>
<text transform="translate(346.80,152.50) scale(1.08,1)" font-size="10.4" stroke="#000" stroke-width="0.4" font-weight="bold" fill="#000">iii</text>
<text transform="translate(7.20,284.20) scale(1.03,1)" font-size="10.4" stroke="#000" stroke-width="0.4" font-weight="bold" fill="#000">C</text>
<text transform="translate(25.60,284.20) scale(1.13,1)" font-size="10.4" stroke="#000" stroke-width="0.4" font-weight="bold" fill="#000">i</text>
<text transform="translate(181.70,284.20) scale(1.0,1)" font-size="10.4" stroke="#000" stroke-width="0.4" font-weight="bold" fill="#000">ii</text>
<text transform="translate(346.80,284.20) scale(1.08,1)" font-size="10.4" stroke="#000" stroke-width="0.4" font-weight="bold" fill="#000">iii</text>
<rect x="0" y="0" width="520" height="1.3" fill="#000"/>
<rect x="0" y="394.7" width="520" height="1.3" fill="#000"/>
<rect x="0" y="0" width="1.5" height="396" fill="#000"/>
<rect x="518.5" y="0" width="1.5" height="396" fill="#000"/>
</svg>
</body>
</html>
